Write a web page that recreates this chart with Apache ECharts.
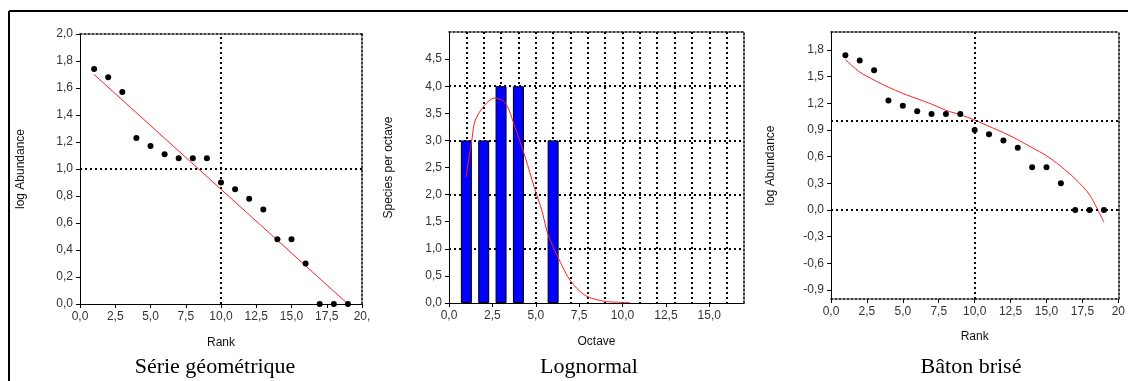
<!DOCTYPE html>
<html><head><meta charset="utf-8">
<script src="https://cdn.jsdelivr.net/npm/echarts@6/dist/echarts.min.js"></script>
<style>html,body{margin:0;padding:0;background:#fff}#c{width:1128px;height:381px}</style>
</head><body><div id="c"></div>
<script>
// ---- data ----
const ranks = [1,2,3,4,5,6,7,8,9,10,11,12,13,14,15,16,17,18,19];
const logAbundance = [1.74,1.68,1.57,1.23,1.17,1.11,1.08,1.08,1.08,0.90,0.85,0.78,0.70,0.48,0.48,0.30,0,0,0];
const geoFitX = [1, 19];
const geoFitY = [1.70, 0.0];
const octaves = [1,2,3,4,6];
const speciesPerOctave = [3,3,4,4,3];
const lognormX = [0.98,1.31,1.5,1.98,2.61,3.23,3.81,4.39,4.92,5.35,5.69,6.27,6.98,7.85,9.0,10.44];
const lognormY = [2.32,2.99,3.36,3.62,3.78,3.70,3.24,2.69,2.13,1.71,1.28,0.85,0.42,0.14,0.03,0.01];
const brokenStickY = [1.69,1.55,1.46,1.38,1.31,1.25,1.19,1.12,1.07,1.01,0.94,0.87,0.79,0.70,0.61,0.49,0.35,0.17,-0.14];
// ticks
const xTicks1 = [0,2.5,5,7.5,10,12.5,15,17.5,20];
const yTicks1 = [0,0.2,0.4,0.6,0.8,1.0,1.2,1.4,1.6,1.8,2.0];
const xTicks2 = [0,2.5,5,7.5,10,12.5,15];
const yTicks2 = [0,0.5,1,1.5,2,2.5,3,3.5,4,4.5];
const xTicks3 = [0,2.5,5,7.5,10,12.5,15,17.5,20];
const yTicks3 = [-0.9,-0.6,-0.3,0,0.3,0.6,0.9,1.2,1.5,1.8];
const titles = ['Série géométrique','Lognormal','Bâton brisé'];

const zip = (a,b) => a.map((v,i)=>[v,b[i]]);
const fmt = v => v.toFixed(1).replace('.', ',');
const SANS = 'Liberation Sans, Arial, sans-serif';
const labelStyle = {color:'#333', fontFamily:SANS, fontSize:12};
const nameStyle = {color:'#111', fontFamily:SANS, fontSize:12};
const dotted = {color:'#000', width:2, type:[2,3]};
const borderDot = {color:'#000', width:1.5, type:[2,2]};

const grids = [
  {left:80, top:34, width:282, height:270},
  {left:449, top:32, width:295, height:271},
  {left:831, top:32, width:295, height:267}
];

function mainX(gi, min, max, ticks, name, gap, lineStyle, fmtf) {
  return {type:'value', gridIndex:gi, min, max, position:'bottom',
    name, nameLocation:'middle', nameGap:gap, nameTextStyle:nameStyle,
    axisLine:{show:true, onZero:false, lineStyle:lineStyle||{color:'#000', width:1}},
    axisTick:{show:true, inside:false, length:4, lineStyle:{color:'#000'}, customValues:ticks},
    axisLabel:{...labelStyle, margin:7, customValues:ticks, formatter:fmtf||fmt},
    splitLine:{show:false}};
}
function mainY(gi, min, max, ticks, name, gap) {
  return {type:'value', gridIndex:gi, min, max, position:'left',
    name, nameLocation:'middle', nameGap:gap, nameTextStyle:nameStyle,
    axisLine:{show:true, onZero:false, lineStyle:{color:'#000', width:1}},
    axisTick:{show:true, inside:false, length:4, lineStyle:{color:'#000'}, customValues:ticks},
    axisLabel:{...labelStyle, margin:7, customValues:ticks, formatter:fmt},
    splitLine:{show:false}};
}
function borderX(gi, min, max, interval, split) {
  return {type:'value', gridIndex:gi, min, max, interval, position:'top',
    axisLine:{show:true, onZero:false, lineStyle:borderDot}, axisTick:{show:false}, axisLabel:{show:false},
    splitLine:{show:!!split, showMinLine:false, showMaxLine:false, lineStyle:dotted}};
}
function borderY(gi, min, max, interval, split) {
  return {type:'value', gridIndex:gi, min, max, interval, position:'right',
    axisLine:{show:true, onZero:false, lineStyle:borderDot}, axisTick:{show:false}, axisLabel:{show:false},
    splitLine:{show:!!split, showMinLine:false, showMaxLine:false, lineStyle:dotted}};
}

const refLines = (xs, ys) => ({silent:true, symbol:'none', label:{show:false},
  lineStyle:dotted, emphasis:{disabled:true},
  data:[...xs.map(v=>({xAxis:v})), ...ys.map(v=>({yAxis:v}))]});

const option = {
  animation:false,
  grid:grids,
  title: titles.map((t,i)=>({text:t, left:[210,584,966][i], top:351, textAlign:'center',
    textStyle:{fontFamily:'Liberation Serif, Times New Roman, serif', fontWeight:'normal', fontSize:22, color:'#000'}})),
  xAxis:[
    mainX(0,0,20,xTicks1,'Rank',33,null,v=>v===20?'20,':fmt(v)),
    mainX(1,0,17,xTicks2,'Octave',33),
    mainX(2,0,20,xTicks3,'Rank',32,borderDot,v=>v===20?'20':fmt(v)),
    borderX(0,0,20,10,false),
    borderX(1,0,17,1,true),
    borderX(2,0,20,10,false)
  ],
  yAxis:[
    mainY(0,0,2,yTicks1,'log Abundance',53),
    mainY(1,0,5,yTicks2,'Species per octave',54),
    mainY(2,-1,2,yTicks3,'log Abundance',54),
    borderY(0,0,2,1,false),
    borderY(1,0,5,1,true),
    borderY(2,-1,2,1,false)
  ],
  graphic:[
    {type:'line', shape:{x1:9,y1:11,x2:1128,y2:11}, style:{stroke:'#000', lineWidth:2}},
    {type:'line', shape:{x1:9,y1:11,x2:9,y2:381}, style:{stroke:'#000', lineWidth:2}}
  ],
  series:[
    {type:'line', xAxisIndex:0, yAxisIndex:0, data:zip(geoFitX,geoFitY), showSymbol:false,
      lineStyle:{color:'#ff2020', width:1}, z:3},
    {type:'scatter', xAxisIndex:0, yAxisIndex:0, data:zip(ranks,logAbundance), symbol:'circle', symbolSize:6,
      itemStyle:{color:'#000', opacity:1}, markLine:refLines([10],[1.0]), z:4},
    {type:'bar', xAxisIndex:1, yAxisIndex:1, data:zip(octaves,speciesPerOctave), barWidth:11,
      itemStyle:{color:'#0000ff', borderColor:'#000', borderWidth:1}, z:3},
    {type:'line', xAxisIndex:1, yAxisIndex:1, data:zip(lognormX,lognormY), showSymbol:false, smooth:0.3,
      lineStyle:{color:'#ff2020', width:1}, z:4},
    {type:'line', xAxisIndex:2, yAxisIndex:2, data:zip(ranks,brokenStickY), showSymbol:false, smooth:0.3,
      lineStyle:{color:'#ff2020', width:1}, z:3},
    {type:'scatter', xAxisIndex:2, yAxisIndex:2, data:zip(ranks,logAbundance), symbol:'circle', symbolSize:6,
      itemStyle:{color:'#000', opacity:1}, markLine:refLines([10],[1.0,0.0]), z:4}
  ]
};
echarts.init(document.getElementById('c'), null, {renderer:'canvas'}).setOption(option);
</script></body></html>
